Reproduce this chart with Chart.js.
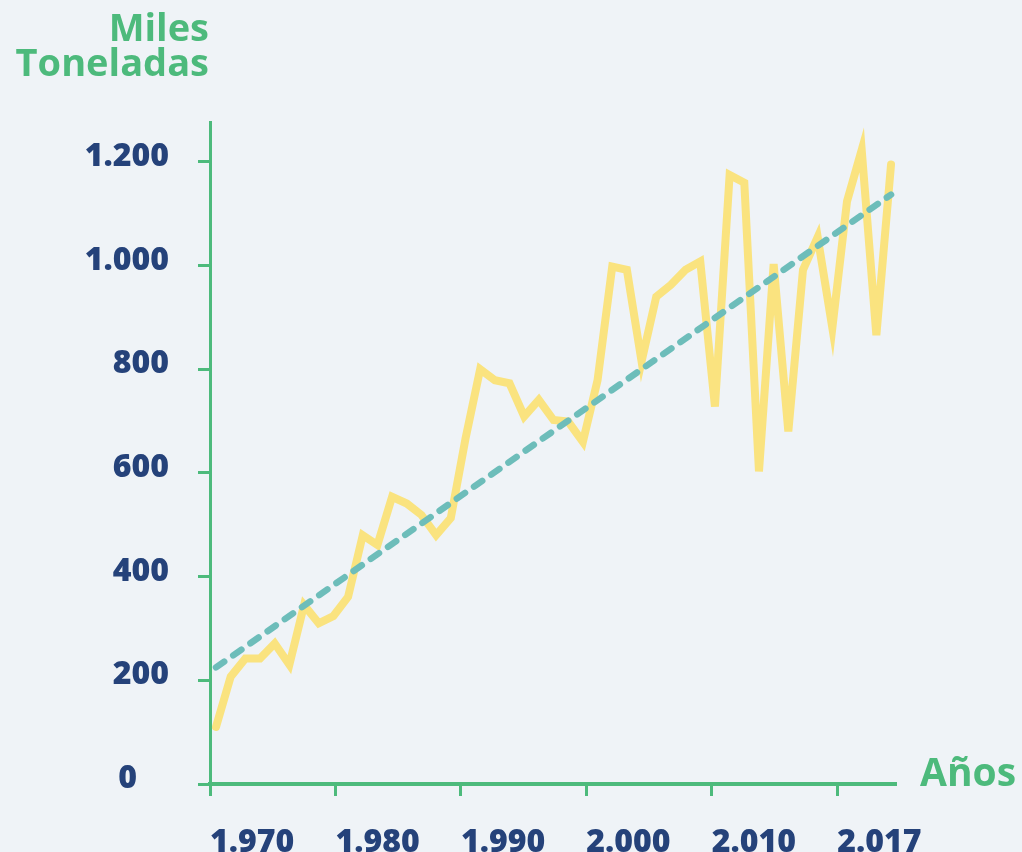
<!DOCTYPE html>
<html>
<head>
<meta charset="utf-8">
<script src="https://cdn.jsdelivr.net/npm/chart.js@4/dist/chart.umd.min.js"></script>
<style>
  html, body { margin: 0; padding: 0; background: #eff3f7; }
  #wrap { width: 1022px; height: 852px; }
</style>
</head>
<body>
<div id="wrap"><canvas id="grafico" width="1022" height="852"></canvas></div>
<script>
// datos
var years = [];
for (var y = 1971; y <= 2017; y++) years.push(y);
var values = [110, 207, 242, 242, 271, 230, 345, 310, 324, 361,
              480, 461, 554, 541, 519, 480, 513, 666, 800, 779,
              773, 709, 741, 702, 699, 660, 779, 998, 992, 815,
              940, 963, 992, 1008, 728, 1175, 1160, 603, 1003, 680,
              992, 1055, 880, 1124, 1223, 866, 1195];
var trendYears = [1971, 2017];
var trendValues = [225, 1137];
var yTicks = [0, 200, 400, 600, 800, 1000, 1200];
var yTickLabels = ['0', '200', '400', '600', '800', '1.000', '1.200'];
var xTickLabels = ['1.970', '1.980', '1.990', '2.000', '2.010', '2.017'];

var verde = '#4dba7c';
var azul = '#25427a';
var fuente = '"Open Sans", sans-serif';

var serie = [];
for (var i in years) serie.push({x: years[i], y: values[i]});
var tendencia = [];
for (var j in trendYears) tendencia.push({x: trendYears[j], y: trendValues[j]});

var titulos = {
  id: 'titulos',
  afterDraw: function(chart) {
    var ctx = chart.ctx;
    ctx.save();
    ctx.fillStyle = verde;
    ctx.font = '700 38px ' + fuente;
    ctx.textAlign = 'right';
    ctx.textBaseline = 'alphabetic';
    ctx.fillText('Miles', 209, 41);
    ctx.fillText('Toneladas', 209, 76);
    ctx.textAlign = 'left';
    ctx.font = '700 39px ' + fuente;
    ctx.fillText('Años', 920, 786);
    ctx.restore();
  }
};

new Chart(document.getElementById('grafico'), {
  type: 'line',
  data: {
    datasets: [
      {
        data: serie,
        borderColor: '#fae37f',
        borderWidth: 8,
        borderCapStyle: 'round',
        borderJoinStyle: 'miter',
        pointRadius: 0,
        tension: 0,
        fill: false,
        clip: false,
        order: 2
      },
      {
        data: tendencia,
        borderColor: '#6dbdba',
        borderWidth: 6.5,
        borderDash: [10, 11],
        borderCapStyle: 'round',
        pointRadius: 0,
        fill: false,
        clip: false,
        order: 1
      }
    ]
  },
  options: {
    responsive: false,
    animation: false,
    layout: { padding: { top: 122, right: 127, left: 0, bottom: 0 } },
    plugins: { legend: { display: false }, tooltip: { enabled: false } },
    scales: {
      x: {
        type: 'linear',
        display: false,
        min: 1970.59,
        max: 2017.27
      },
      xt: {
        type: 'linear',
        position: 'bottom',
        min: 0,
        max: 5.46,
        afterBuildTicks: function(s) {
          s.ticks = xTickLabels.map(function(l, i) { return {value: i}; });
        },
        afterFit: function(s) { s.height = 68; },
        grid: { drawOnChartArea: false, color: verde, lineWidth: 3, tickLength: 12 },
        border: { display: true, color: verde, width: 4 },
        ticks: {
          align: 'start',
          padding: 28,
          color: azul,
          font: { family: fuente, size: 32, weight: '800' },
          maxRotation: 0,
          autoSkip: false,
          callback: function(v, i) { return xTickLabels[i]; }
        }
      },
      y: {
        min: 0,
        max: 1277,
        afterBuildTicks: function(s) {
          s.ticks = yTicks.map(function(v) { return {value: v}; });
        },
        afterFit: function(s) { s.width = 210; },
        grid: { drawOnChartArea: false, color: verde, lineWidth: 3, tickLength: 12 },
        border: { display: true, color: verde, width: 3 },
        ticks: {
          padding: 29,
          labelOffset: -5,
          color: azul,
          font: { family: fuente, size: 32, weight: '800' },
          callback: function(v, i) {
            var t = yTickLabels[i];
            return t.length === 1 ? t + '\u2003' : t;
          }
        }
      }
    }
  },
  plugins: [titulos]
});
</script>
</body>
</html>
